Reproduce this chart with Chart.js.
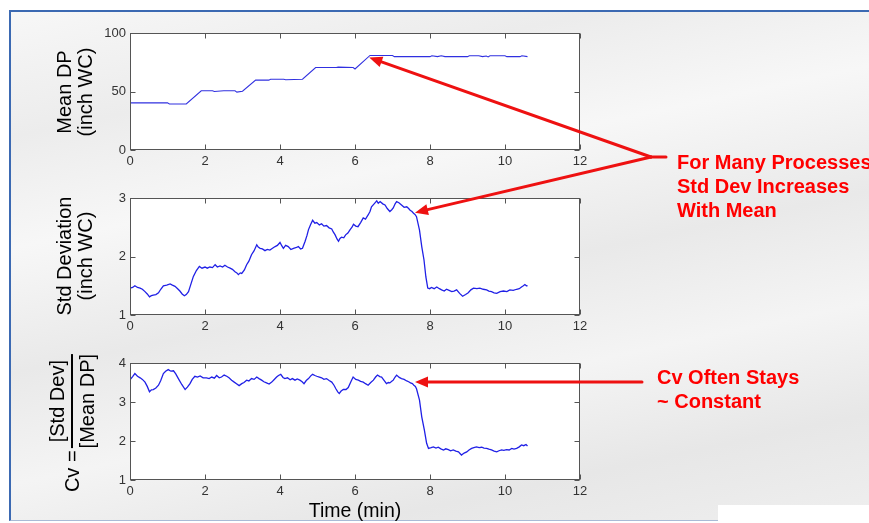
<!DOCTYPE html>
<html><head><meta charset="utf-8">
<script src="https://cdn.jsdelivr.net/npm/chart.js@4.4.1/dist/chart.umd.min.js"></script>
<style>
html,body{margin:0;padding:0;background:#fff;}
#page{position:relative;width:869px;height:523px;overflow:hidden;background:#fff;font-family:"Liberation Sans",Arial,sans-serif;}
#frame{position:absolute;left:9px;top:10px;width:880px;height:508px;border-left:2px solid #3b69b2;border-top:2px solid #3b69b2;border-bottom:1px solid #a9bbd6;
 background:linear-gradient(168deg,#f7f7f7 0%,#ececec 18%,#f7f7f7 34%,#e9e9e9 52%,#f4f4f4 68%,#e7e7e7 84%,#efefef 100%);}
#wbox{position:absolute;left:718px;top:505px;width:151px;height:18px;background:#fff;}
canvas{position:absolute;left:0;}
.ylab{position:absolute;transform:translate(-50%,-50%) rotate(-90deg);white-space:nowrap;text-align:center;font-size:20px;line-height:21px;color:#000;}
.note{position:absolute;color:#f00;font-weight:bold;font-size:20px;line-height:24px;white-space:nowrap;}
</style></head>
<body>
<div id="page">
  <div id="frame"></div>
  <div id="wbox"></div>
  <canvas id="c1" width="869" height="175" style="top:0px"></canvas>
  <canvas id="c2" width="869" height="175" style="top:165px"></canvas>
  <canvas id="c3" width="869" height="193" style="top:330px"></canvas>
  <canvas id="ov" width="869" height="523" style="top:0px"></canvas>
  <div class="ylab" style="left:75px;top:92px">Mean DP<br>(inch WC)</div>
  <div class="ylab" style="left:75px;top:256px">Std Deviation<br>(inch WC)</div>
  <div class="ylab" style="left:71.5px;top:423px;display:flex;align-items:center;line-height:22px;">
    <span>Cv =</span>
    <span style="display:inline-flex;flex-direction:column;align-items:center;margin-left:2px;">
      <span>[Std Dev]</span>
      <span style="align-self:stretch;border-top:2px solid #000;margin:3px 0;"></span>
      <span>[Mean DP]</span>
    </span>
  </div>
  <div class="note" style="left:677px;top:150px">For Many Processes<br>Std Dev Increases<br>With Mean</div>
  <div class="note" style="left:657px;top:365px">Cv Often Stays<br>~ Constant</div>
</div>
<script>
// ---- data: [time (min), value] ----
const meanDPSeries = [[0,40.3],[0.5,40.3],[1.0,40.3],[1.05,39.3],[1.5,39.3],[1.9,50.6],[2.2,50.6],[2.25,50.0],[2.5,50.6],[2.8,50.6],[2.85,49.5],[3.0,50.2],[3.35,59.7],[3.7,59.7],[3.75,60.5],[4.1,60.5],[4.15,60.0],[4.6,60.5],[4.95,70.5],[5.5,70.5],[5.55,70.8],[5.95,70.5],[6.0,69.3],[6.4,80.8],[7.0,80.8],[7.05,79.8],[8.0,79.8],[8.05,80.6],[8.2,79.8],[8.3,80.5],[8.4,79.8],[9.0,79.8],[9.05,80.6],[9.3,80.6],[9.4,79.8],[9.5,80.3],[9.55,79.5],[9.6,80.5],[10.0,80.5],[10.05,79.8],[10.4,79.8],[10.45,80.5],[10.6,79.8]];

const stdDevSeries = [[0,1.46],[0.07,1.47],[0.13,1.50],[0.2,1.47],[0.27,1.46],[0.33,1.44],[0.4,1.40],[0.46,1.36],[0.52,1.31],[0.57,1.33],[0.62,1.34],[0.69,1.35],[0.76,1.38],[0.82,1.44],[0.89,1.50],[0.98,1.51],[1.07,1.53],[1.13,1.51],[1.2,1.49],[1.27,1.45],[1.33,1.41],[1.39,1.36],[1.45,1.33],[1.5,1.35],[1.56,1.40],[1.62,1.52],[1.69,1.66],[1.77,1.76],[1.85,1.83],[1.92,1.80],[2.0,1.82],[2.06,1.80],[2.13,1.82],[2.2,1.81],[2.27,1.86],[2.33,1.82],[2.4,1.84],[2.47,1.82],[2.53,1.85],[2.6,1.82],[2.67,1.80],[2.73,1.78],[2.8,1.74],[2.85,1.72],[2.89,1.69],[2.94,1.72],[2.98,1.71],[3.05,1.77],[3.11,1.86],[3.17,1.92],[3.24,2.03],[3.31,2.10],[3.38,2.20],[3.42,2.16],[3.47,2.14],[3.53,2.13],[3.6,2.10],[3.66,2.12],[3.73,2.11],[3.8,2.14],[3.87,2.17],[3.93,2.19],[4.0,2.24],[4.05,2.18],[4.09,2.14],[4.15,2.19],[4.22,2.17],[4.29,2.12],[4.36,2.14],[4.42,2.15],[4.49,2.17],[4.55,2.13],[4.6,2.14],[4.67,2.26],[4.72,2.36],[4.76,2.46],[4.82,2.55],[4.87,2.62],[4.93,2.57],[4.98,2.58],[5.05,2.54],[5.11,2.56],[5.17,2.52],[5.24,2.53],[5.31,2.49],[5.38,2.47],[5.42,2.42],[5.47,2.37],[5.52,2.30],[5.56,2.26],[5.6,2.31],[5.64,2.33],[5.7,2.32],[5.75,2.37],[5.81,2.40],[5.87,2.46],[5.92,2.50],[5.96,2.55],[6.02,2.52],[6.08,2.51],[6.15,2.58],[6.22,2.66],[6.28,2.64],[6.35,2.71],[6.4,2.77],[6.44,2.85],[6.51,2.90],[6.58,2.95],[6.62,2.91],[6.67,2.94],[6.74,2.90],[6.8,2.88],[6.86,2.82],[6.93,2.77],[6.98,2.80],[7.02,2.83],[7.07,2.90],[7.11,2.94],[7.17,2.92],[7.24,2.88],[7.31,2.84],[7.38,2.85],[7.43,2.82],[7.47,2.79],[7.52,2.77],[7.56,2.74],[7.6,2.72],[7.64,2.68],[7.72,2.45],[7.78,2.17],[7.84,1.94],[7.89,1.65],[7.94,1.46],[7.99,1.45],[8.04,1.47],[8.11,1.45],[8.18,1.48],[8.25,1.45],[8.31,1.43],[8.38,1.41],[8.44,1.44],[8.51,1.42],[8.58,1.40],[8.64,1.41],[8.71,1.43],[8.79,1.37],[8.87,1.32],[8.95,1.35],[9.02,1.38],[9.09,1.43],[9.16,1.46],[9.25,1.45],[9.33,1.46],[9.42,1.44],[9.51,1.43],[9.57,1.41],[9.64,1.40],[9.71,1.38],[9.78,1.37],[9.87,1.40],[9.96,1.41],[10.05,1.40],[10.13,1.43],[10.22,1.42],[10.31,1.44],[10.38,1.45],[10.44,1.48],[10.49,1.50],[10.53,1.52],[10.57,1.50],[10.6,1.50]];

const cvSeries = [[0,3.57],[0.07,3.65],[0.13,3.73],[0.2,3.66],[0.27,3.62],[0.33,3.58],[0.4,3.51],[0.46,3.40],[0.52,3.26],[0.57,3.31],[0.62,3.32],[0.69,3.36],[0.76,3.43],[0.82,3.55],[0.89,3.73],[0.95,3.79],[1.02,3.83],[1.09,3.79],[1.16,3.80],[1.22,3.72],[1.29,3.60],[1.38,3.45],[1.47,3.32],[1.53,3.38],[1.6,3.47],[1.66,3.58],[1.73,3.66],[1.8,3.64],[1.87,3.67],[1.95,3.62],[2.04,3.62],[2.11,3.60],[2.18,3.64],[2.25,3.61],[2.31,3.68],[2.38,3.62],[2.44,3.64],[2.51,3.69],[2.58,3.66],[2.64,3.62],[2.71,3.56],[2.78,3.51],[2.84,3.47],[2.91,3.42],[2.98,3.47],[3.04,3.50],[3.11,3.56],[3.17,3.54],[3.24,3.60],[3.31,3.58],[3.38,3.64],[3.44,3.60],[3.51,3.56],[3.57,3.52],[3.64,3.49],[3.71,3.46],[3.78,3.51],[3.84,3.57],[3.91,3.64],[3.96,3.68],[4.02,3.71],[4.08,3.63],[4.13,3.60],[4.2,3.62],[4.27,3.57],[4.33,3.60],[4.4,3.56],[4.46,3.59],[4.53,3.56],[4.59,3.52],[4.64,3.47],[4.7,3.55],[4.76,3.60],[4.82,3.67],[4.87,3.71],[4.93,3.68],[4.98,3.66],[5.05,3.64],[5.11,3.62],[5.17,3.58],[5.24,3.60],[5.31,3.55],[5.38,3.51],[5.44,3.43],[5.49,3.34],[5.54,3.26],[5.58,3.22],[5.63,3.28],[5.69,3.32],[5.76,3.32],[5.82,3.37],[5.89,3.52],[5.95,3.64],[6.02,3.58],[6.09,3.56],[6.15,3.53],[6.22,3.51],[6.28,3.47],[6.35,3.43],[6.42,3.50],[6.49,3.56],[6.55,3.64],[6.6,3.69],[6.66,3.65],[6.71,3.64],[6.78,3.55],[6.84,3.47],[6.89,3.50],[6.93,3.49],[6.98,3.53],[7.02,3.56],[7.07,3.64],[7.11,3.69],[7.18,3.63],[7.24,3.60],[7.31,3.58],[7.38,3.54],[7.43,3.52],[7.48,3.49],[7.53,3.47],[7.57,3.43],[7.61,3.40],[7.64,3.34],[7.72,3.05],[7.78,2.62],[7.85,2.28],[7.91,1.94],[7.96,1.81],[8.03,1.83],[8.09,1.85],[8.16,1.82],[8.22,1.84],[8.29,1.80],[8.36,1.77],[8.42,1.80],[8.49,1.78],[8.55,1.75],[8.62,1.77],[8.69,1.74],[8.76,1.72],[8.8,1.68],[8.84,1.64],[8.91,1.69],[8.98,1.72],[9.04,1.77],[9.11,1.81],[9.17,1.83],[9.24,1.85],[9.31,1.83],[9.38,1.84],[9.44,1.82],[9.51,1.81],[9.57,1.79],[9.64,1.77],[9.71,1.74],[9.78,1.72],[9.84,1.75],[9.91,1.77],[9.97,1.76],[10.04,1.78],[10.11,1.77],[10.18,1.81],[10.24,1.79],[10.31,1.81],[10.38,1.85],[10.44,1.90],[10.5,1.88],[10.56,1.91],[10.6,1.87]];

const xTicks = {min:0, max:12, step:2};
const yMean = {min:0, max:100, step:50};
const yStd  = {min:1, max:3, step:1};
const yCv   = {min:1, max:4, step:1};

// annotation arrow tips in data units
const tipMean = [6.38, 79];
const tipStd  = [7.6, 2.75];
const tipCv   = [7.6, 3.51];

function pts(series){ return series.map(p=>({x:p[0], y:p[1]})); }

const boxPlugin = {
  id:'matlabBox',
  beforeDatasetsDraw(chart){
    const a = chart.chartArea, ctx = chart.ctx;
    ctx.save(); ctx.fillStyle = '#ffffff';
    ctx.fillRect(a.left, a.top, a.right-a.left, a.bottom-a.top);
    ctx.restore();
  },
  afterDatasetsDraw(chart){
    const a = chart.chartArea, ctx = chart.ctx;
    const xs = chart.scales.x, ys = chart.scales.y;
    const L = Math.round(a.left)+0.5, R = Math.round(a.right)-0.5, T = Math.round(a.top)+0.5, B = Math.round(a.bottom)-0.5;
    ctx.save();
    ctx.strokeStyle = '#555'; ctx.lineWidth = 1;
    ctx.strokeRect(L, T, R-L, B-T);
    ctx.beginPath();
    xs.ticks.forEach(t=>{
      const px = Math.round(xs.getPixelForValue(t.value))+0.5;
      ctx.moveTo(px,B); ctx.lineTo(px,B-5);
      ctx.moveTo(px,T); ctx.lineTo(px,T+5);
    });
    ys.ticks.forEach(t=>{
      const py = Math.round(ys.getPixelForValue(t.value))+0.5;
      ctx.moveTo(L,py); ctx.lineTo(L+5,py);
      ctx.moveTo(R,py); ctx.lineTo(R-5,py);
    });
    ctx.stroke();
    ctx.restore();
  }
};

const tickFont = {family:'"Liberation Sans", Arial, sans-serif', size:13};

function makeChart(id, data, yr, opts){
  const showTitle = !!opts.title;
  return new Chart(document.getElementById(id), {
    type:'line',
    data:{datasets:[{data:data, borderColor:opts.color, borderWidth:opts.lw, pointRadius:0, tension:0, fill:false}]},
    options:{
      responsive:false, animation:false, events:[],
      layout:{padding:{left:90, top:33, right:289, bottom:0}},
      plugins:{legend:{display:false}, tooltip:{enabled:false}},
      scales:{
        x:{type:'linear', min:xTicks.min, max:xTicks.max,
           ticks:{stepSize:xTicks.step, font:tickFont, color:'#333', padding:4, maxRotation:0},
           grid:{display:false, drawTicks:false}, border:{display:false},
           title:{display:showTitle, text:opts.title||'', font:{family:'"Liberation Sans", Arial, sans-serif', size:19.5}, color:'#000', padding:{top:0,bottom:0}},
           afterFit(s){ s.height = opts.xh; }},
        y:{type:'linear', min:yr.min, max:yr.max,
           ticks:{stepSize:yr.step, font:tickFont, color:'#333', padding:4},
           grid:{display:false, drawTicks:false}, border:{display:false},
           afterFit(s){ s.width = 40; }}
      }
    },
    plugins:[boxPlugin]
  });
}

const ch1 = makeChart('c1', pts(meanDPSeries), yMean, {lw:1.1, xh:25, color:'#3030e0'});
const ch2 = makeChart('c2', pts(stdDevSeries), yStd, {lw:1.3, xh:25, color:'#2020e6'});
const ch3 = makeChart('c3', pts(cvSeries), yCv, {lw:1.3, xh:43, color:'#2020e6', title:'Time (min)'});

function tipPx(chart, topOff, v){
  return [chart.scales.x.getPixelForValue(v[0]), chart.scales.y.getPixelForValue(v[1]) + topOff];
}
function arrow(ctx, x0,y0,x1,y1){
  const a = Math.atan2(y1-y0, x1-x0), L = 13, W = 5.5;
  const bx = x1 - L*Math.cos(a), by = y1 - L*Math.sin(a);
  ctx.beginPath(); ctx.moveTo(x0,y0); ctx.lineTo(bx,by); ctx.stroke();
  ctx.beginPath(); ctx.moveTo(x1,y1);
  ctx.lineTo(bx + W*Math.sin(a), by - W*Math.cos(a));
  ctx.lineTo(bx - W*Math.sin(a), by + W*Math.cos(a));
  ctx.closePath(); ctx.fill();
}
const ov = document.getElementById('ov').getContext('2d');
ov.strokeStyle = '#ee1111'; ov.fillStyle = '#ee1111'; ov.lineWidth = 3; ov.lineCap = 'round';
const hub = [651, 157];
const t1 = tipPx(ch1, 0, tipMean), t2 = tipPx(ch2, 165, tipStd), t3 = tipPx(ch3, 330, tipCv);
arrow(ov, hub[0], hub[1], t1[0], t1[1]);
arrow(ov, hub[0], hub[1], t2[0], t2[1]);
ov.beginPath(); ov.moveTo(hub[0], hub[1]); ov.lineTo(666, hub[1]); ov.stroke();
arrow(ov, 642, t3[1], t3[0], t3[1]);
</script>
</body></html>
